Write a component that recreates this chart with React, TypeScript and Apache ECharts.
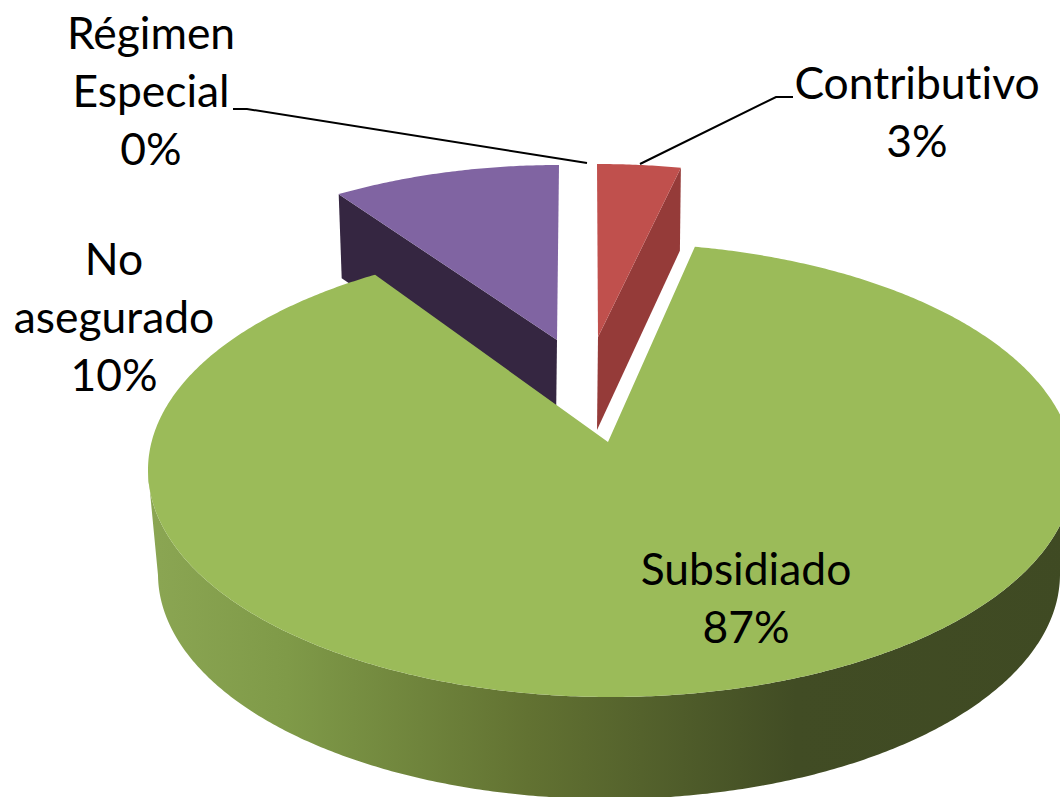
import React, { useEffect, useRef } from "react";
import * as echarts from "echarts";

// Data
const categories = ["Contributivo", "Subsidiado", "Régimen Especial", "No asegurado"];
const shares = [3.4, 86.7, 0.4, 9.5];

// Styles and layout, one row per category
const topColors = ["#C0504D", "#9BBB59", "", "#8064A2"];
const wallColors = ["#953B39", "", "", "#352641"];
const rimOffsets = [[-14, -79], [0, 0], [0, 0], [-52, -78]];
const rimScales = [1, 1, 1, 0.97];
const apexOffsets = [[-10, -105], [0, 0], [0, 0], [-51, -102]];
const wallDepths = [[83, 93], [0, 0], [0, 0], [84, 84]];
const labelCenters = [[917, 110], [746, 596], [151, 89], [114, 315]];
const leaders: number[][][] = [
  [[793, 97], [776, 97], [640, 164]],
  [],
  [[233, 109], [247, 109], [587, 163]],
  [],
];
const wallStops = [
  { offset: 0, color: "#8BA653" },
  { offset: 0.15, color: "#7F9A48" },
  { offset: 0.41, color: "#627232" },
  { offset: 0.7, color: "#414C24" },
  { offset: 1, color: "#3F4A23" },
];

const TOP = { cx: 611, cy: 470, a: 463, b: 227 };
const BASE = { cx: 609, cy: 574, a: 451, b: 225 };
const APEX = [608, 442];
const TILT = 0.852; // back of the pie is foreshortened
const FONT = "Lato, 'Open Sans', sans-serif";

const warp = (deg: number) => {
  const h = (deg * Math.PI) / 360;
  return 2 * Math.atan2(TILT * Math.sin(h), Math.cos(h));
};
const onEllipse = (e: typeof TOP, phi: number, off = [0, 0], scale = 1) => [
  e.cx + off[0] + e.a * scale * Math.sin(phi),
  e.cy + off[1] - e.b * Math.cos(phi),
];

const total = shares.reduce((s, v) => s + v, 0);

function renderSlice(params: any, api: any) {
  const i = params.dataIndex;
  const before = shares.slice(0, i).reduce((s, v) => s + v, 0);
  const from = (before / total) * 360;
  const to = from + (api.value(0) / total) * 360;
  const children: any[] = [];

  if (topColors[i]) {
    const rim: number[][] = [];
    const n = Math.max(4, Math.ceil(to - from) * 2);
    for (let k = 0; k <= n; k++) {
      rim.push(onEllipse(TOP, warp(from + ((to - from) * k) / n), rimOffsets[i], rimScales[i]));
    }
    const apex = [APEX[0] + apexOffsets[i][0], APEX[1] + apexOffsets[i][1]];
    const isMain = !wallColors[i];
    const order = isMain ? 20 : 10;

    if (isMain) {
      const upper: number[][] = [];
      const lower: number[][] = [];
      for (let k = 0; k <= n; k++) {
        const phi = warp(from + ((to - from) * k) / n);
        if (phi >= Math.PI / 2 && phi <= (3 * Math.PI) / 2) {
          upper.push(onEllipse(TOP, phi));
          lower.push(onEllipse(BASE, phi));
        }
      }
      children.push({
        type: "polygon",
        z2: order,
        shape: { points: [...upper, ...lower.reverse()] },
        style: { fill: new echarts.graphic.LinearGradient(0, 0, 1, 0, wallStops) },
      });
    } else {
      const edge = i === 0 ? rim[rim.length - 1] : rim[0];
      const [dRim, dApex] = wallDepths[i];
      const inward = i === 0 ? -1 : 3;
      children.push({
        type: "polygon",
        z2: order,
        shape: {
          points: [
            edge,
            apex,
            [apex[0] - 1, apex[1] + dApex],
            [edge[0] + inward, edge[1] + dRim],
          ],
        },
        style: { fill: wallColors[i] },
      });
    }
    children.push({
      type: "polygon",
      z2: order + 1,
      shape: { points: [apex, ...rim] },
      style: { fill: topColors[i] },
    });
  }

  if (leaders[i].length) {
    children.push({
      type: "polyline",
      z2: 30,
      shape: { points: leaders[i] },
      style: { stroke: "#000000", lineWidth: 2, fill: "none" },
    });
  }

  const label = [...categories[i].split(" "), `${Math.round(api.value(0))}%`].join("\n");
  children.push({
    type: "text",
    z2: 40,
    x: labelCenters[i][0],
    y: labelCenters[i][1],
    style: {
      text: label,
      fontFamily: FONT,
      fontSize: 44.4,
      lineHeight: 58,
      fill: "#000000",
      align: "center",
      verticalAlign: "middle",
    },
  });
  return { type: "group", children };
}

export default function App() {
  const ref = useRef<HTMLDivElement>(null);
  useEffect(() => {
    document.body.style.margin = "0";
    const chart = echarts.init(ref.current!, null, { renderer: "svg" });
    chart.setOption({
      animation: false,
      backgroundColor: "#FFFFFF",
      series: [
        {
          type: "custom",
          coordinateSystem: "none",
          renderItem: renderSlice,
          data: shares.map((v, i) => ({ name: categories[i], value: [v] })),
          clip: false,
          silent: true,
        },
      ],
    });
    return () => chart.dispose();
  }, []);
  return (
    <div
      ref={ref}
      style={{ width: 1060, height: 797, overflow: "hidden", fontVariantLigatures: "none" }}
    />
  );
}
